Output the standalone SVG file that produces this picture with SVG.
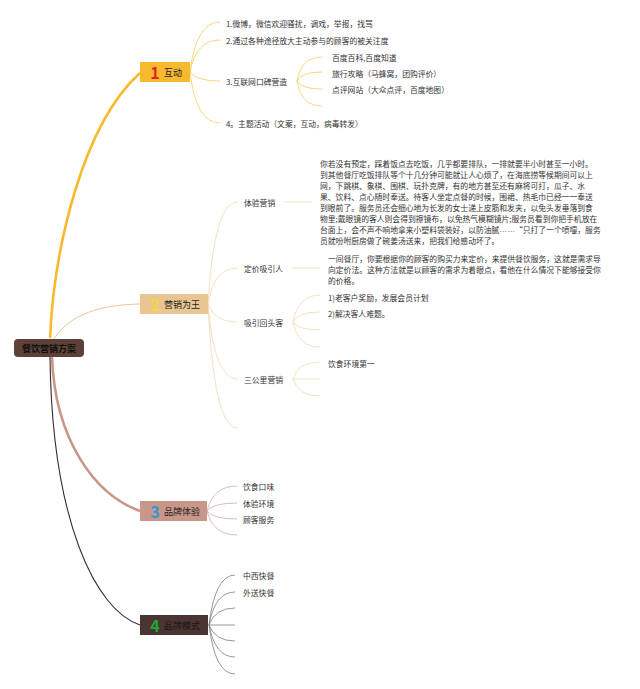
<svg xmlns="http://www.w3.org/2000/svg" width="640" height="689" viewBox="0 0 640 689">
<style>
text{font-family:"Noto Sans CJK SC","Liberation Sans",sans-serif;dominant-baseline:central;fill:#333}
.t{font-size:7.8px}
.lbl{font-size:9px;fill:#222}
.num{font-size:16px;font-weight:bold}
.lat{font-family:"Liberation Sans",sans-serif}
.c1{fill:none;stroke:#f6cd5e;stroke-width:0.8}
.c2{fill:none;stroke:#eed8b0;stroke-width:0.8}
.c3{fill:none;stroke:#c9aea9;stroke-width:0.8}
.c4{fill:none;stroke:#857a79;stroke-width:0.8}
</style>
<rect width="640" height="689" fill="#fff"/>
<g id="connectors">
<path d="M50,338 C54,250 82,125 140,73" fill="none" stroke="#f8b92e" stroke-width="2.6"/>
<path d="M54,339 C70,314 100,305 140,304" fill="none" stroke="#e8c796" stroke-width="1"/>
<path d="M52,357 C55,440 95,495 140,511" fill="none" stroke="#c9968a" stroke-width="2.6"/>
<path d="M50,357 C52,520 95,610 140,625" fill="none" stroke="#3a2b29" stroke-width="1.1"/>
<path class="c1" d="M190,72 Q196,22 220,22"/>
<path class="c1" d="M190,72 Q196,40 220,40"/>
<path class="c1" d="M190,72 Q196,81 220,81"/>
<path class="c1" d="M190,72 Q196,123 220,123"/>
<path class="c1" d="M297,81 Q301,57 322,57"/>
<path class="c1" d="M297,81 Q301,72 322,72"/>
<path class="c1" d="M297,81 Q301,89 322,89"/>
<path class="c1" d="M297,81 Q301,106 322,106"/>
<path class="c2" d="M208,304 Q214,202 237,202"/>
<path class="c2" d="M208,304 Q214,268 237,268"/>
<path class="c2" d="M208,304 Q214,322 237,322"/>
<path class="c2" d="M208,304 Q214,379 237,379"/>
<path class="c2" d="M208,304 Q214,428 237,428"/>
<path class="c2" d="M284,202 L312,202"/>
<path class="c2" d="M292,268 L320,268"/>
<path class="c2" d="M293,322 Q298,295 320,295"/>
<path class="c2" d="M293,322 Q298,312 320,312"/>
<path class="c2" d="M293,322 Q298,330 320,330"/>
<path class="c2" d="M293,322 Q298,347 320,347"/>
<path class="c2" d="M293,379 Q298,362 320,362"/>
<path class="c2" d="M293,379 L320,379"/>
<path class="c2" d="M293,379 Q298,396 320,396"/>
<path class="c3" d="M207,511 Q213,486 237,486"/>
<path class="c3" d="M207,511 Q213,503 237,503"/>
<path class="c3" d="M207,511 Q213,519 237,519"/>
<path class="c3" d="M207,511 Q213,535 237,535"/>
<path class="c4" d="M209,625 Q215,575 235,575"/>
<path class="c4" d="M209,625 Q215,592 235,592"/>
<path class="c4" d="M209,625 Q215,608 235,608"/>
<path class="c4" d="M209,625 L235,625"/>
<path class="c4" d="M209,625 Q215,641 235,641"/>
<path class="c4" d="M209,625 Q215,657 235,657"/>
<path class="c4" d="M209,625 Q215,674 235,674"/>
</g>
<g id="root">
<rect x="14" y="339" width="70" height="18" rx="4" fill="#5d4037"/>
<text x="49" y="348" text-anchor="middle" style="font-size:9px;font-weight:bold;fill:#111">餐饮营销方案</text>
</g>
<g id="b1">
<rect x="140" y="62" width="50" height="20" fill="#f8b92e"/>
<text x="155" y="72" text-anchor="middle" class="num" style="fill:#e0261f">1</text>
<text x="164" y="72" class="lbl">互动</text>
</g>
<g id="b1-items">
<text x="226" y="23" class="t">1.微博，微信欢迎骚扰，调戏，举报，找骂</text>
<text x="226" y="40" class="t">2.通过各种途径放大主动参与的顾客的被关注度</text>
<text x="226" y="81" class="t">3.互联网口碑营造</text>
<text x="332" y="57" class="t">百度百科,百度知道</text>
<text x="332" y="73" class="t">旅行攻略（马蜂窝，团购评价）</text>
<text x="332" y="89" class="t">点评网站（大众点评，百度地图）</text>
<text x="226" y="123" class="t">4。主题活动（文案，互动，病毒转发）</text>
</g>
<g id="b2">
<rect x="140" y="294" width="68" height="20" fill="#e8c591"/>
<text x="155" y="304" text-anchor="middle" class="num" style="fill:#f6d63a">2</text>
<text x="164" y="304" class="lbl">营销为王</text>
</g>
<g id="b2-items">
<text x="244" y="202" class="t">体验营销</text>
<text class="t">
<tspan x="320" y="163">你若没有预定，踩着饭点去吃饭，几乎都要排队，一排就要半小时甚至一小时。</tspan>
<tspan x="320" y="174">到其他餐厅吃饭排队等个十几分钟可能就让人心烦了，在海底捞等候期间可以上</tspan>
<tspan x="320" y="185">网，下跳棋、象棋、围棋、玩扑克牌，有的地方甚至还有麻将可打，瓜子、水</tspan>
<tspan x="320" y="196">果、饮料、点心随时奉送。待客人坐定点餐的时候，围裙、热毛巾已经一一奉送</tspan>
<tspan x="320" y="207">到眼前了。服务员还会细心地为长发的女士递上皮筋和发夹，以免头发垂落到食</tspan>
<tspan x="320" y="218">物里;戴眼镜的客人则会得到擦镜布，以免热气模糊镜片;服务员看到你把手机放在</tspan>
<tspan x="320" y="229">台面上，会不声不响地拿来小塑料袋装好，以防油腻<tspan class="lat">……</tspan>“只打了一个喷嚏，服务</tspan>
<tspan x="320" y="240">员就吩咐厨房做了碗姜汤送来，把我们给感动坏了。</tspan>
</text>
<text x="244" y="268" class="t">定价吸引人</text>
<text class="t">
<tspan x="328" y="258">一间餐厅，你要根据你的顾客的购买力来定价，来提供餐饮服务，这就是需求导</tspan>
<tspan x="328" y="269">向定价法。这种方法就是以顾客的需求为着眼点，看他在什么情况下能够接受你</tspan>
<tspan x="328" y="279.5">的价格。</tspan>
</text>
<text x="244" y="322" class="t">吸引回头客</text>
<text x="328" y="297" class="t">1)老客户奖励，发展会员计划</text>
<text x="328" y="313" class="t">2)解决客人难题。</text>
<text x="244" y="379" class="t">三公里营销</text>
<text x="328" y="363" class="t">饮食环境第一</text>
</g>
<g id="b3">
<rect x="140" y="501" width="67" height="20" fill="#c9968a"/>
<text x="155" y="511" text-anchor="middle" class="num" style="fill:#2f98d8">3</text>
<text x="164" y="511" class="lbl">品牌体验</text>
</g>
<g id="b3-items">
<text x="243" y="486" class="t">饮食口味</text>
<text x="243" y="503" class="t">体验环境</text>
<text x="243" y="519" class="t">顾客服务</text>
</g>
<g id="b4">
<rect x="140" y="615" width="68" height="20" fill="#4a3533"/>
<text x="155" y="625" text-anchor="middle" class="num" style="fill:#25a83a">4</text>
<text x="164" y="625" class="lbl" style="fill:#1a1414">品牌模式</text>
</g>
<g id="b4-items">
<text x="243" y="575" class="t">中西快餐</text>
<text x="243" y="592" class="t">外送快餐</text>
</g>
</svg>
